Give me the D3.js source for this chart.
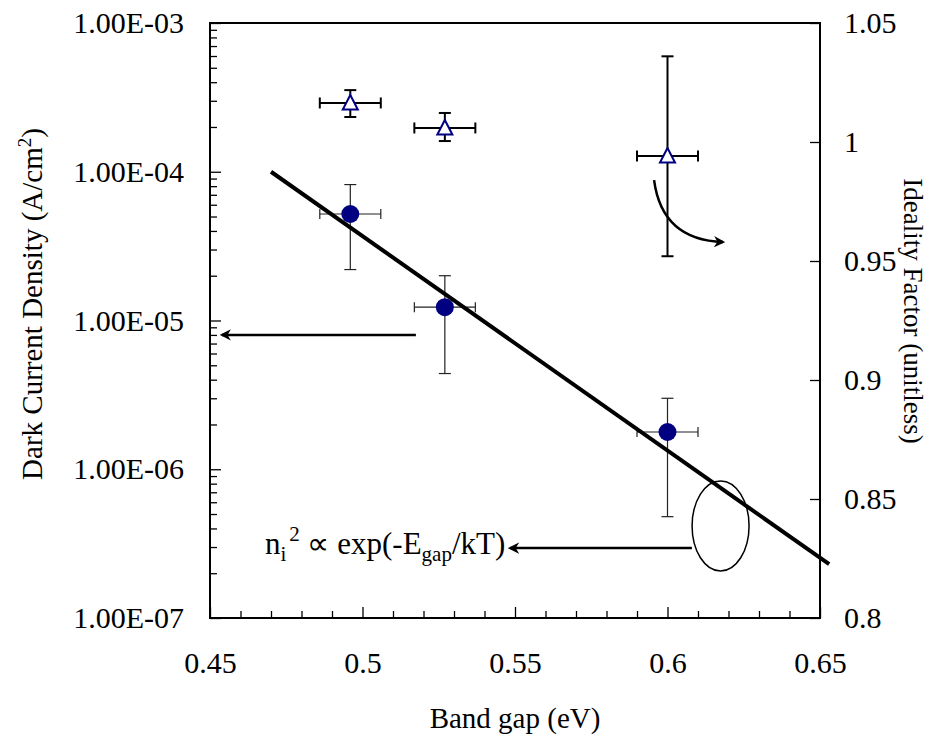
<!DOCTYPE html>
<html>
<head>
<meta charset="utf-8">
<script src="https://cdn.jsdelivr.net/npm/d3@7/dist/d3.min.js"></script>
<style>
  body { margin: 0; background: #fff; }
  svg text { font-family: "Liberation Serif", "Times New Roman", serif; fill: #000; }
</style>
</head>
<body>
<svg id="chart" width="943" height="746"></svg>
<script>
// tick values / labels
const xTicks = [0.45, 0.5, 0.55, 0.6, 0.65];
const xTickLabels = ['0.45', '0.5', '0.55', '0.6', '0.65'];
const yLeftTicks = [1e-3, 1e-4, 1e-5, 1e-6, 1e-7];
const yLeftTickLabels = ['1.00E-03', '1.00E-04', '1.00E-05', '1.00E-06', '1.00E-07'];
const yRightTicks = [0.8, 0.85, 0.9, 0.95, 1, 1.05];
const yRightTickLabels = ['0.8', '0.85', '0.9', '0.95', '1', '1.05'];

// measured data
const bandGap = [0.496, 0.527, 0.600];
const bandGapErr = [0.01, 0.01, 0.01];
const darkCurrent = [5.2e-5, 1.23e-5, 1.78e-6];
const darkCurrentLow = [2.2e-5, 4.4e-6, 4.8e-7];
const darkCurrentHigh = [8.2e-5, 2.0e-5, 3.0e-6];
const ideality = [1.0164, 1.0059, 0.9941];
const idealityLow = [1.0105, 1.0004, 0.952];
const idealityHigh = [1.0218, 1.0122, 1.036];

// fit line  n_i^2 ~ exp(-Eg/kT)
const fitX = [0.47, 0.653];
const fitY = [1.0e-4, 2.3e-7];

let svg = d3.select('#chart');

let paddingL = 210;
let paddingT = 23;
let plotW = 610;
let plotH = 595;

let x = d3.scaleLinear().domain([0.45, 0.65]).range([paddingL, paddingL + plotW]);
let yL = d3.scaleLog().domain([1e-7, 1e-3]).range([paddingT + plotH, paddingT]);
let yR = d3.scaleLinear().domain([0.8, 1.05]).range([paddingT + plotH, paddingT]);

// minor tick positions
let xMinor = d3.range(46, 65).filter(d => d % 5 !== 0).map(d => d / 100);
let yMinor = [];
[-7, -6, -5, -4].forEach(e => { for (let k = 2; k <= 9; k++) yMinor.push(k * Math.pow(10, e)); });

// arrow head
svg.append('defs').append('marker')
  .attr('id', 'head')
  .attr('viewBox', '0 0 10 10')
  .attr('refX', 8).attr('refY', 5)
  .attr('markerWidth', 4.5).attr('markerHeight', 4.5)
  .attr('markerUnits', 'strokeWidth')
  .attr('orient', 'auto')
  .append('path').attr('d', 'M0,0 L10,5 L0,10 L3,5 Z').attr('fill', '#000');

// frame
svg.append('rect')
  .attr('x', paddingL).attr('y', paddingT)
  .attr('width', plotW).attr('height', plotH)
  .attr('fill', 'none').attr('stroke', '#000').attr('stroke-width', 2);

// Axes
let xAxis = d3.axisBottom(x).tickValues(xTicks)
  .tickFormat((d, i) => xTickLabels[i]).tickSizeInner(-11).tickSizeOuter(0).tickPadding(34);
let xAxisMinor = d3.axisBottom(x).tickValues(xMinor).tickFormat('').tickSizeInner(-7).tickSizeOuter(0);

let yAxisL = d3.axisLeft(yL).tickValues(yLeftTicks)
  .tickFormat((d, i) => yLeftTickLabels[i]).tickSizeInner(-11).tickSizeOuter(0).tickPadding(26);
let yAxisLMinor = d3.axisLeft(yL).tickValues(yMinor).tickFormat('').tickSizeInner(-7).tickSizeOuter(0);

let yAxisR = d3.axisRight(yR).tickValues(yRightTicks)
  .tickFormat((d, i) => yRightTickLabels[i]).tickSizeInner(-10).tickSizeOuter(0).tickPadding(24);

function styleAxis(g) {
  g.select('.domain').remove();
  g.selectAll('line').attr('stroke', '#000').attr('stroke-width', 1.3);
  g.selectAll('text').attr('font-size', 30).attr('font-family', '"Liberation Serif", serif');
}

svg.append('g').attr('transform', `translate(0,${paddingT + plotH})`).call(xAxis).call(styleAxis);
svg.append('g').attr('transform', `translate(0,${paddingT + plotH})`).call(xAxisMinor).call(styleAxis);
svg.append('g').attr('transform', `translate(${paddingL},0)`).call(yAxisL).call(styleAxis);
svg.append('g').attr('transform', `translate(${paddingL},0)`).call(yAxisLMinor).call(styleAxis);
svg.append('g').attr('transform', `translate(${paddingL + plotW},0)`).call(yAxisR).call(styleAxis);

// Axis titles
svg.append('text')
  .attr('x', paddingL + plotW / 2).attr('y', 728)
  .attr('text-anchor', 'middle').attr('font-size', 29)
  .text('Band gap (eV)');

let tl = svg.append('text')
  .attr('transform', 'translate(42,304) rotate(-90)')
  .attr('text-anchor', 'middle').attr('font-size', 29);
tl.append('tspan').text('Dark Current Density (A/cm');
tl.append('tspan').attr('font-size', 19).attr('dy', -11).text('2');
tl.append('tspan').attr('dy', 11).text(')');

svg.append('text')
  .attr('transform', 'translate(904,311) rotate(90)')
  .attr('text-anchor', 'middle').attr('font-size', 27)
  .text('Ideality Factor (unitless)');

let idx = d3.range(bandGap.length);

// error bars - dark current
let eb1 = svg.append('g').attr('stroke', '#222').attr('stroke-width', 1.2);
idx.forEach(i => {
  let cx = x(bandGap[i]), cy = yL(darkCurrent[i]);
  let x0 = x(bandGap[i] - bandGapErr[i]), x1 = x(bandGap[i] + bandGapErr[i]);
  let y0 = yL(darkCurrentLow[i]), y1 = yL(darkCurrentHigh[i]);
  eb1.append('line').attr('x1', cx).attr('x2', cx).attr('y1', y0).attr('y2', y1);
  eb1.append('line').attr('x1', cx - 6).attr('x2', cx + 6).attr('y1', y0).attr('y2', y0);
  eb1.append('line').attr('x1', cx - 6).attr('x2', cx + 6).attr('y1', y1).attr('y2', y1);
  eb1.append('line').attr('x1', x0).attr('x2', x1).attr('y1', cy).attr('y2', cy);
  eb1.append('line').attr('x1', x0).attr('x2', x0).attr('y1', cy - 5).attr('y2', cy + 5);
  eb1.append('line').attr('x1', x1).attr('x2', x1).attr('y1', cy - 5).attr('y2', cy + 5);
});

// error bars - ideality
let eb2 = svg.append('g').attr('stroke', '#000').attr('stroke-width', 2);
idx.forEach(i => {
  let cx = x(bandGap[i]), cy = yR(ideality[i]);
  let x0 = x(bandGap[i] - bandGapErr[i]), x1 = x(bandGap[i] + bandGapErr[i]);
  let y0 = yR(idealityLow[i]), y1 = yR(idealityHigh[i]);
  eb2.append('line').attr('x1', cx).attr('x2', cx).attr('y1', y0).attr('y2', y1);
  eb2.append('line').attr('x1', cx - 6).attr('x2', cx + 6).attr('y1', y0).attr('y2', y0);
  eb2.append('line').attr('x1', cx - 6).attr('x2', cx + 6).attr('y1', y1).attr('y2', y1);
  eb2.append('line').attr('x1', x0).attr('x2', x1).attr('y1', cy).attr('y2', cy);
  eb2.append('line').attr('x1', x0).attr('x2', x0).attr('y1', cy - 5.5).attr('y2', cy + 5.5);
  eb2.append('line').attr('x1', x1).attr('x2', x1).attr('y1', cy - 5.5).attr('y2', cy + 5.5);
});

// markers
svg.append('g').selectAll('circle')
  .data(idx).join('circle')
  .attr('cx', i => x(bandGap[i]))
  .attr('cy', i => yL(darkCurrent[i]))
  .attr('r', 9)
  .attr('fill', '#000080');

svg.append('g').selectAll('path')
  .data(idx).join('path')
  .attr('transform', i => `translate(${x(bandGap[i])},${yR(ideality[i])})`)
  .attr('d', 'M0,-8 L7.5,6.5 L-7.5,6.5 Z')
  .attr('fill', '#fff')
  .attr('stroke', '#000080')
  .attr('stroke-width', 2);

// fit line
let fitLine = d3.line().x(d => x(d[0])).y(d => yL(d[1]));
svg.append('path')
  .datum(d3.zip(fitX, fitY))
  .attr('d', fitLine)
  .attr('fill', 'none')
  .attr('stroke', '#000')
  .attr('stroke-width', 4);

// annotations
// arrow pointing to left axis
svg.append('line')
  .attr('x1', x(0.5175)).attr('x2', x(0.4539))
  .attr('y1', yL(8.0e-6)).attr('y2', yL(8.0e-6))
  .attr('stroke', '#000').attr('stroke-width', 2.5)
  .attr('marker-end', 'url(#head)');

// curved arrow pointing to right axis
let cp = d3.path();
cp.moveTo(x(0.5956), yR(0.984));
cp.quadraticCurveTo(x(0.5982), yR(0.9588), x(0.6182), yR(0.958));
svg.append('path')
  .attr('d', cp.toString())
  .attr('fill', 'none').attr('stroke', '#000').attr('stroke-width', 2.5)
  .attr('marker-end', 'url(#head)');

// ellipse around fit line
let ex = 0.6174, ey = 4.16e-7;
svg.append('ellipse')
  .attr('cx', x(ex)).attr('cy', yL(ey))
  .attr('rx', x(ex + 0.00934) - x(ex))
  .attr('ry', 45)
  .attr('fill', 'none').attr('stroke', '#000').attr('stroke-width', 1.5);

svg.append('line')
  .attr('x1', x(0.6080)).attr('x2', x(0.5484))
  .attr('y1', yL(2.95e-7)).attr('y2', yL(2.95e-7))
  .attr('stroke', '#000').attr('stroke-width', 2.5)
  .attr('marker-end', 'url(#head)');

let ann = svg.append('text')
  .attr('x', x(0.468)).attr('y', yL(2.95e-7) + 6)
  .attr('font-size', 31);
ann.append('tspan').text('n');
ann.append('tspan').attr('font-size', 21).attr('dy', 7).text('i');
ann.append('tspan').attr('font-size', 21).attr('dy', -20).attr('dx', 3).text('2');
ann.append('tspan').attr('dy', 13).text(' \u221D exp(-E');
ann.append('tspan').attr('font-size', 21).attr('dy', 7).text('gap');
ann.append('tspan').attr('dy', -7).text('/kT)');
</script>
</body>
</html>
